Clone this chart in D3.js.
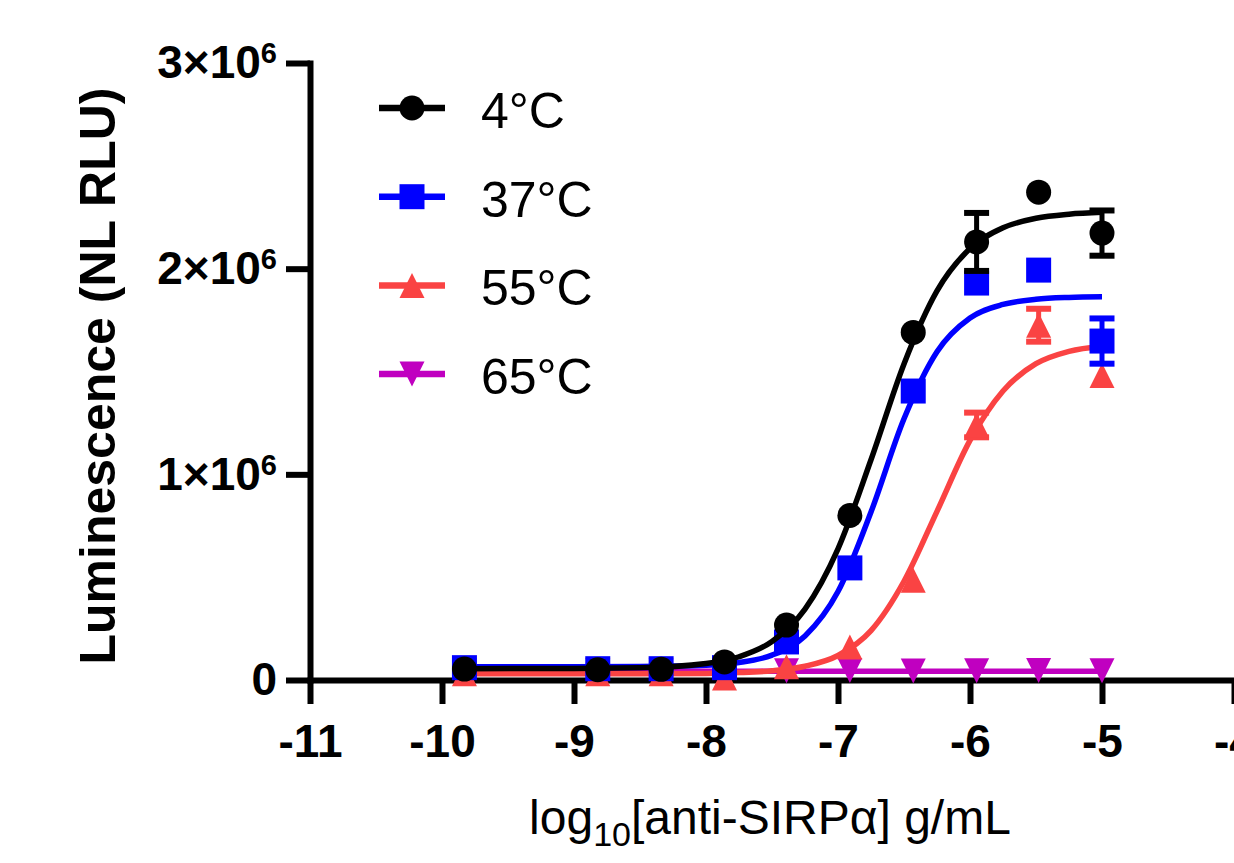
<!DOCTYPE html>
<html>
<head>
<meta charset="utf-8">
<script src="https://cdn.jsdelivr.net/npm/d3@7"></script>
<style>
    body { margin: 0; background: #fff; }
    svg { display: block; }
    text { font-family: "Liberation Sans", Arial, sans-serif; }
</style>
</head>
<body>
<svg id="chart" width="1234" height="863"></svg>
<script>
// measured points: log10 concentration (g/mL) and luminescence (x10^6 RLU)
var logConc = [-9.83, -8.82, -8.34, -7.86, -7.39, -6.91, -6.43, -5.95, -5.48, -5.0];
var lum4C  = [0.053, 0.050, 0.052, 0.088, 0.267, 0.800, 1.690, 2.130, 2.372, 2.173];
var lum37C = [0.060, 0.055, 0.055, 0.060, 0.185, 0.545, 1.405, 1.930, 1.993, 1.648];
var lum55C = [0.030, 0.030, 0.030, 0.010, 0.065, 0.160, 0.485, 1.240, 1.725, 1.480];
var lum65C = [0.045, 0.045, 0.044, 0.046, 0.045, 0.046, 0.044, 0.045, 0.046, 0.045];
// error bars (SEM, x10^6), 0 where hidden by marker
var sem4C  = [0, 0, 0, 0, 0, 0, 0, 0.141, 0, 0.110];
var sem37C = [0, 0, 0, 0, 0, 0, 0, 0, 0, 0.110];
var sem55C = [0, 0, 0, 0, 0, 0, 0, 0.060, 0.080, 0];
var sem65C = [0, 0, 0, 0, 0, 0, 0, 0, 0, 0];

// fitted curves
var curveX   = [-9.83, -9.0, -8.5, -8.0, -7.75, -7.5, -7.25, -7.0, -6.75, -6.5, -6.25, -6.0, -5.75, -5.5, -5.25, -5.0];
var fit4C    = [0.055, 0.056, 0.059, 0.080, 0.113, 0.187, 0.345, 0.638, 1.071, 1.537, 1.892, 2.098, 2.199, 2.245, 2.265, 2.274];
var fit37C   = [0.065, 0.065, 0.066, 0.072, 0.085, 0.121, 0.214, 0.430, 0.817, 1.270, 1.596, 1.760, 1.826, 1.851, 1.860, 1.863];
var fit55C   = [0.030, 0.030, 0.030, 0.032, 0.036, 0.045, 0.067, 0.119, 0.240, 0.480, 0.820, 1.165, 1.405, 1.538, 1.598, 1.623];
var fit65C   = [0.042, 0.042, 0.042, 0.042, 0.042, 0.042, 0.042, 0.042, 0.042, 0.042, 0.042, 0.042, 0.042, 0.042, 0.042, 0.042];

var seriesNames = ["4°C", "37°C", "55°C", "65°C"];
var seriesColors = ["#000000", "#0000ff", "#fa4343", "#c000c0"];
var seriesShapes = ["circle", "square", "triangleUp", "triangleDown"];
var xTicks = [-11, -10, -9, -8, -7, -6, -5, -4];
var yTicks = [0, 1e6, 2e6, 3e6];

var series = [
    {name: seriesNames[0], color: seriesColors[0], shape: seriesShapes[0], y: lum4C, sem: sem4C, fit: fit4C},
    {name: seriesNames[1], color: seriesColors[1], shape: seriesShapes[1], y: lum37C, sem: sem37C, fit: fit37C},
    {name: seriesNames[2], color: seriesColors[2], shape: seriesShapes[2], y: lum55C, sem: sem55C, fit: fit55C},
    {name: seriesNames[3], color: seriesColors[3], shape: seriesShapes[3], y: lum65C, sem: sem65C, fit: fit65C}
];

var svg = d3.select("#chart");
svg.append("rect").attr("width", 1234).attr("height", 863).attr("fill", "#fff");

var xScale = d3.scaleLinear().domain([-11, -4]).range([310, 1234]);
var yScale = d3.scaleLinear().domain([0, 3e6]).range([680, 63]);

function markerPath(shape) {
    var s = 12.5;
    if (shape === "circle") {
        return "M" + s + ",0A" + s + "," + s + " 0 1,1 " + (-s) + ",0A" + s + "," + s + " 0 1,1 " + s + ",0Z";
    }
    if (shape === "square") {
        return "M" + (-s) + "," + (-s) + "H" + s + "V" + s + "H" + (-s) + "Z";
    }
    if (shape === "triangleUp") {
        return "M0," + (-s) + "L" + s + "," + s + "H" + (-s) + "Z";
    }
    return "M0," + s + "L" + s + "," + (-s) + "H" + (-s) + "Z";
}

// axes
var xAxis = svg.append("g")
    .attr("class", "x axis")
    .attr("transform", "translate(0,680)")
    .call(d3.axisBottom(xScale).tickValues(xTicks).tickSize(24).tickSizeOuter(0).tickPadding(20)
        .tickFormat(function (d) { return String(d); }));
var yAxis = svg.append("g")
    .attr("class", "y axis")
    .attr("transform", "translate(310,0)")
    .call(d3.axisLeft(yScale).tickValues(yTicks).tickSize(24).tickSizeOuter(0).tickPadding(9));

svg.selectAll(".axis path, .axis line")
    .attr("stroke", "#000")
    .attr("stroke-width", 6)
    .attr("stroke-linecap", "square");
svg.selectAll(".axis .tick line").attr("stroke-linecap", "butt");
svg.selectAll(".axis text")
    .attr("fill", "#000")
    .attr("font-size", 46)
    .attr("font-weight", "bold")
    .attr("font-family", "'Liberation Sans', Arial, sans-serif");

yAxis.selectAll(".tick text").each(function (d) {
    var t = d3.select(this);
    t.text(null);
    if (d === 0) {
        t.text("0");
    } else {
        t.append("tspan").text((d / 1e6) + "×10");
        t.append("tspan").attr("dy", -15).attr("font-size", 29).text("6");
    }
});

// series, drawn bottom to top
var line = d3.line()
    .x(function (d) { return xScale(d[0]); })
    .y(function (d) { return yScale(d[1] * 1e6); })
    .curve(d3.curveMonotoneX);

series.slice().reverse().forEach(function (s) {
    var g = svg.append("g").attr("class", "series");
    g.append("path")
        .datum(curveX.map(function (v, i) { return [v, s.fit[i]]; }))
        .attr("d", line)
        .attr("fill", "none")
        .attr("stroke", s.color)
        .attr("stroke-width", 5.5);

    var pts = logConc.map(function (v, i) { return {x: v, y: s.y[i], e: s.sem[i]}; });
    var bars = g.selectAll(".err").data(pts.filter(function (p) { return p.e > 0; }))
        .enter().append("g").attr("class", "err")
        .attr("stroke", s.color);
    bars.append("line")
        .attr("x1", function (p) { return xScale(p.x); })
        .attr("x2", function (p) { return xScale(p.x); })
        .attr("y1", function (p) { return yScale((p.y - p.e) * 1e6); })
        .attr("y2", function (p) { return yScale((p.y + p.e) * 1e6); })
        .attr("stroke-width", 5);
    [-1, 1].forEach(function (sign) {
        bars.append("line")
            .attr("x1", function (p) { return xScale(p.x) - 12.5; })
            .attr("x2", function (p) { return xScale(p.x) + 12.5; })
            .attr("y1", function (p) { return yScale((p.y + sign * p.e) * 1e6); })
            .attr("y2", function (p) { return yScale((p.y + sign * p.e) * 1e6); })
            .attr("stroke-width", 6);
    });

    g.selectAll(".dot").data(pts)
        .enter().append("path")
        .attr("class", "dot")
        .attr("transform", function (p) { return "translate(" + xScale(p.x) + "," + yScale(p.y * 1e6) + ")"; })
        .attr("d", markerPath(s.shape))
        .attr("fill", s.color);
});

// legend
var legend = svg.append("g").attr("class", "legend");
series.forEach(function (s, i) {
    var ly = 108 + i * 88.7;
    legend.append("line")
        .attr("x1", 379).attr("x2", 445)
        .attr("y1", ly).attr("y2", ly)
        .attr("stroke", s.color)
        .attr("stroke-width", 6.5);
    legend.append("path")
        .attr("transform", "translate(412," + ly + ")")
        .attr("d", markerPath(s.shape))
        .attr("fill", s.color);
    legend.append("text")
        .attr("x", 481).attr("y", ly + 20)
        .attr("font-size", 50)
        .attr("fill", "#000")
        .text(s.name);
});

// axis titles
svg.append("text")
    .attr("transform", "translate(115,376) rotate(-90)")
    .attr("text-anchor", "middle")
    .attr("font-size", 50)
    .attr("font-weight", "bold")
    .text("Luminescence (NL RLU)");

var xTitle = svg.append("text")
    .attr("x", 770).attr("y", 834)
    .attr("text-anchor", "middle")
    .attr("font-size", 48);
xTitle.append("tspan").text("log");
xTitle.append("tspan").attr("font-size", 34).attr("dy", 12).text("10");
xTitle.append("tspan").attr("dy", -12).text("[anti-SIRPα] g/mL");
</script>
</body>
</html>
